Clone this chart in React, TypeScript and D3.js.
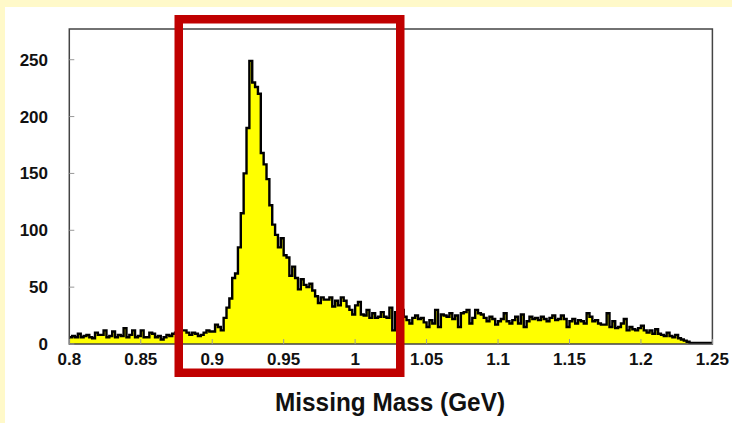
import React from "react";
import * as d3 from "d3";

const width = 732;
const height = 423;

// histogram of missing mass, bins of 2 MeV from 0.8 GeV
const binStart = 0.8;
const binWidth = 0.002;
const counts = [
  6, 7, 6, 9, 6, 7, 8, 6, 5, 10, 8, 8, 12, 6, 7, 11, 6, 8, 7, 14,
  6, 8, 12, 6, 7, 12, 6, 6, 10, 9, 6, 7, 4, 6, 8, 7, 9, 10, 11, 12,
  12, 10, 8, 10, 9, 7, 8, 10, 12, 11, 11, 17, 15, 12, 23, 32, 40, 58, 62, 85,
  115, 150,
  190, 249, 230, 226, 220, 168, 158, 145, 122, 105, 96, 85, 93, 78, 76, 60,
  68, 58, 48, 57, 52, 50, 53, 47,
  42, 36, 41, 39, 39, 41, 33, 38, 34, 41, 38, 33, 30, 26, 34, 37,
  26, 25, 30, 23, 27, 23, 24, 28, 24, 23, 32, 12, 28, 24, 30, 24,
  21, 18, 23, 25, 22, 23, 19, 15, 21, 18, 30, 15, 26, 25, 24, 27, 22, 25, 15, 27,
  28, 30, 18, 23, 30, 27, 26, 23, 20, 24, 22, 17, 20, 22, 27, 20, 18, 21, 24, 18,
  26, 15, 20, 24, 22, 23, 21, 24, 22, 20, 23, 25, 21, 22,
  25, 22, 15, 20, 22, 18, 21, 20, 18, 27, 24, 20, 21, 18, 17, 17, 27, 15, 20, 14,
  15, 18, 22, 12, 15, 13, 12, 14, 16, 12, 10, 12, 9, 13, 9, 8, 7, 10, 7, 6,
  8, 5, 4, 3, 2, 1,
  1, 1, 1, 1, 1, 1, 1
];

const xTicks = [0.8, 0.85, 0.9, 0.95, 1, 1.05, 1.1, 1.15, 1.2, 1.25];
const xTickLabels = ["0.8", "0.85", "0.9", "0.95", "1", "1.05", "1.1", "1.15", "1.2", "1.25"];
const yTicks = [0, 50, 100, 150, 200, 250];
const xTitle = "Missing Mass (GeV)";

const frame = { left: 69.3, right: 712.4, top: 29, bottom: 344 };
const labelFont = "'Liberation Sans', Arial, Helvetica, sans-serif";

export default function App() {
  const x = d3.scaleLinear().domain([0.8, 1.25]).range([frame.left, frame.right]);
  const y = d3.scaleLinear().domain([0, 277]).range([frame.bottom, frame.top]);

  // step outline: both edges of each bin
  const steps: [number, number][] = [];
  counts.forEach((c, i) => {
    const x0 = binStart + i * binWidth;
    steps.push([x0, c], [x0 + binWidth, c]);
  });

  const area = d3
    .area<[number, number]>()
    .x(d => x(d[0]))
    .y0(y(0))
    .y1(d => y(d[1]));
  const line = d3
    .line<[number, number]>()
    .x(d => x(d[0]))
    .y(d => y(d[1]));

  return (
    <svg
      width={width}
      height={height}
      style={{ position: "absolute", left: 0, top: 0 }}
    >
      <rect width={width} height={height} fill="#fff9c9" />
      <rect x={5} y={7} width={width - 5} height={height - 7} fill="#ffffff" />

      <path d={area(steps) || ""} fill="#ffff00" />
      <path
        d={line(steps) || ""}
        fill="none"
        stroke="#000"
        strokeWidth={2.4}
        strokeLinejoin="miter"
      />

      {/* frame */}
      <rect
        x={frame.left}
        y={frame.top}
        width={frame.right - frame.left}
        height={frame.bottom - frame.top}
        fill="none"
        stroke="#444"
        strokeWidth={1.5}
      />

      {yTicks.map(t => (
        <g key={t}>
          <line
            x1={frame.left}
            x2={frame.left + 5}
            y1={y(t)}
            y2={y(t)}
            stroke="#999"
          />
          <text
            x={48}
            y={y(t)}
            dy="0.35em"
            textAnchor="end"
            fontFamily={labelFont}
            fontWeight="bold"
            fontSize={17}
            fill="#111"
          >
            {t}
          </text>
        </g>
      ))}

      {xTicks.map((t, i) => (
        <g key={t}>
          <line
            x1={x(t)}
            x2={x(t)}
            y1={frame.bottom}
            y2={frame.bottom - 5}
            stroke="#999"
          />
          <text
            x={x(t)}
            y={365}
            textAnchor="middle"
            fontFamily={labelFont}
            fontWeight="bold"
            fontSize={17}
            fill="#111"
          >
            {xTickLabels[i]}
          </text>
        </g>
      ))}

      <text
        x={390}
        y={411}
        textAnchor="middle"
        fontFamily={labelFont}
        fontWeight="bold"
        fontSize={25}
        textLength={230}
        lengthAdjust="spacingAndGlyphs"
        fill="#111"
      >
        {xTitle}
      </text>

      {/* highlight box */}
      <rect
        x={178.75}
        y={19.25}
        width={221.5}
        height={353.5}
        fill="none"
        stroke="#c00000"
        strokeWidth={8.5}
      />
    </svg>
  );
}
